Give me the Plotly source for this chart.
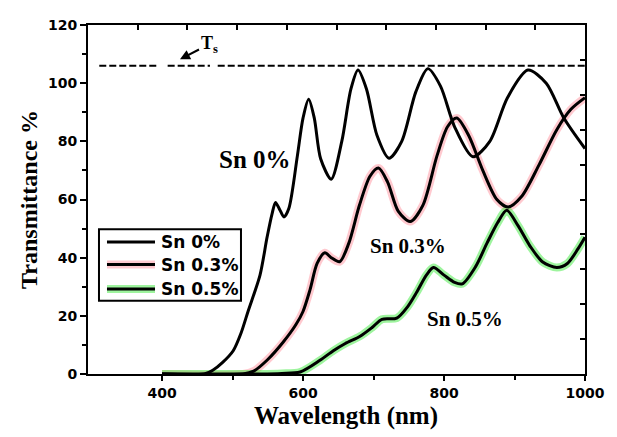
import plotly.graph_objects as go

# ---------------- data ----------------
wl_0 = [400, 460, 472, 486, 501, 512, 522, 539, 549, 556, 561, 567, 573, 580, 592, 600, 608, 616,
        625, 640, 655, 668, 678, 690, 705, 722, 740, 760, 777, 795, 815, 841, 865, 890, 919, 945, 970, 1000]
t_0 = [0, 0, 1.3, 4, 8, 14, 21.5, 34, 47, 55, 59, 56.5, 54, 57, 75, 88, 94.5, 88,
       74, 67, 80, 98, 104.5, 98, 82, 74.2, 80, 97, 105, 99, 85, 74.7, 80, 95, 104.5, 100, 88, 77.5]

wl_03 = [400, 515, 530, 550, 572, 590, 600, 610, 620, 631, 640, 652, 665, 680, 695, 707, 720, 735,
         752, 770, 790, 805, 818, 835, 855, 875, 891, 910, 935, 960, 980, 1000]
t_03 = [0, 0, 1, 5, 11, 17, 21.5, 29, 38, 41.7, 40, 38.6, 45, 58, 68, 70.8, 66, 56,
        52.4, 58, 75, 85, 88, 82, 70, 60, 57.4, 61, 72, 84, 91, 95]

wl_05 = [400, 540, 570, 596, 624, 643, 660, 681, 698, 712, 733, 748, 761, 775, 785, 800, 815, 826,
         845, 861, 876, 889, 905, 922, 940, 960, 975, 990, 1000]
t_05 = [0, 0, 0.2, 0.7, 4.7, 8, 10.5, 13, 16, 18.8, 19.2, 23, 28, 34, 36.6, 34, 31.5, 31,
        37, 45, 52, 56.3, 51, 44, 38.5, 36.6, 38, 43, 47]

ts_wl = [311, 393, None, 408, 468, None, 479, 1000]
ts_val = [106, 106, None, 106, 106, None, 106, 106]

series_names = ["Sn 0%", "Sn 0.3%", "Sn 0.5%"]
glow_colors = [None, "rgba(255,90,110,0.33)", "rgba(40,230,40,0.45)"]

x_range = [295, 1000]
y_range = [0, 120]

# ---------------- figure ----------------
fig = go.Figure()

data = [(wl_0, t_0), (wl_03, t_03), (wl_05, t_05)]
for (wl, t), gc in zip(data, glow_colors):
    if gc:
        fig.add_trace(go.Scatter(x=wl, y=t, mode="lines", showlegend=False, hoverinfo="skip",
                                 line=dict(color=gc, width=8, shape="spline", smoothing=0.8)))

for (wl, t), name in zip(data, series_names):
    fig.add_trace(go.Scatter(x=wl, y=t, mode="lines", name=name, showlegend=False,
                             line=dict(color="black", width=3, shape="spline", smoothing=0.8)))

fig.add_trace(go.Scatter(x=ts_wl, y=ts_val, mode="lines", showlegend=False, connectgaps=False,
                         line=dict(color="black", width=2, dash="7px,3px")))

# invisible trace for mirror axes
fig.add_trace(go.Scatter(x=[None], y=[None], xaxis="x2", yaxis="y2", showlegend=False))

tickfont = dict(family="DejaVu Sans", size=14, color="black", weight="bold")
serif = "Liberation Serif"

fig.update_layout(
    width=609, height=429,
    margin=dict(l=80, r=32, t=9, b=63),
    plot_bgcolor="white", paper_bgcolor="white",
    xaxis=dict(range=x_range, tickvals=[400, 600, 800, 1000], ticks="outside", ticklen=5, tickwidth=2,
               tickcolor="black", showline=True, linewidth=2, linecolor="black", showgrid=False,
               zeroline=False, tickfont=tickfont,
               minor=dict(tickvals=[500, 700, 900], ticks="outside", ticklen=4, tickwidth=2, tickcolor="black")),
    yaxis=dict(range=y_range, tickvals=[0, 20, 40, 60, 80, 100, 120], ticks="outside", ticklen=6, tickwidth=2,
               tickcolor="black", showline=True, linewidth=2, linecolor="black", showgrid=False,
               zeroline=False, tickfont=tickfont,
               minor=dict(tickvals=[10, 30, 50, 70, 90, 110], ticks="outside", ticklen=4, tickwidth=2,
                          tickcolor="black"),
               title=dict(text="Transmittance %", font=dict(family=serif, size=24, color="black", weight="bold"),
                          standoff=4)),
    xaxis2=dict(range=x_range, overlaying="x", side="top", tickmode="linear", tick0=295, dtick=70.5,
                ticks="inside", ticklen=5, tickwidth=2, tickcolor="black", showticklabels=False,
                showline=True, linewidth=2, linecolor="black", showgrid=False, zeroline=False),
    yaxis2=dict(range=y_range, overlaying="y", side="right", tickmode="linear", tick0=0, dtick=12,
                ticks="inside", ticklen=5, tickwidth=2, tickcolor="black", showticklabels=False,
                showline=True, linewidth=2, linecolor="black", showgrid=False, zeroline=False),
    showlegend=False,
)

ann_font = dict(family=serif, color="black", weight="bold")
# x-axis title
fig.add_annotation(xref="paper", yref="paper", x=0.519, y=-0.0756, yanchor="top",
                   text="Wavelength (nm)", showarrow=False, font=dict(size=25, **ann_font))
fig.add_annotation(x=532, y=73.6, text="Sn 0%", showarrow=False, font=dict(size=25, **ann_font))
fig.add_annotation(x=749, y=44, text="Sn 0.3%", showarrow=False, font=dict(size=21, **ann_font))
fig.add_annotation(x=830, y=18.8, text="Sn 0.5%", showarrow=False, font=dict(size=21, **ann_font))
fig.add_annotation(x=425.5, y=108.2, text="T<sub>s</sub>", showarrow=True, ax=29, ay=-15, arrowhead=2,
                   arrowsize=1, arrowwidth=2, arrowcolor="black", standoff=0,
                   font=dict(size=18, **ann_font))

# ---------------- legend box (drawn by hand to show the coloured halos) ----------------
fig.add_shape(type="rect", xref="paper", yref="paper", x0=0.0221, x1=0.3078, y0=0.2101, y1=0.4146,
              line=dict(color="black", width=2), fillcolor="white", layer="above")
legend_y = [0.378, 0.3137, 0.2437]
for name, gc, ly in zip(series_names, glow_colors, legend_y):
    if gc:
        fig.add_shape(type="line", xref="paper", yref="paper", x0=0.0382, x1=0.1348, y0=ly, y1=ly,
                      line=dict(color=gc, width=8), layer="above")
    fig.add_shape(type="line", xref="paper", yref="paper", x0=0.0382, x1=0.1348, y0=ly, y1=ly,
                  line=dict(color="black", width=3), layer="above")
    fig.add_annotation(xref="paper", yref="paper", x=0.1429, y=ly, xanchor="left", yanchor="middle",
                       text=name, showarrow=False,
                       font=dict(family="DejaVu Sans", size=17, color="black", weight="bold"))

fig.write_html("out.html")
